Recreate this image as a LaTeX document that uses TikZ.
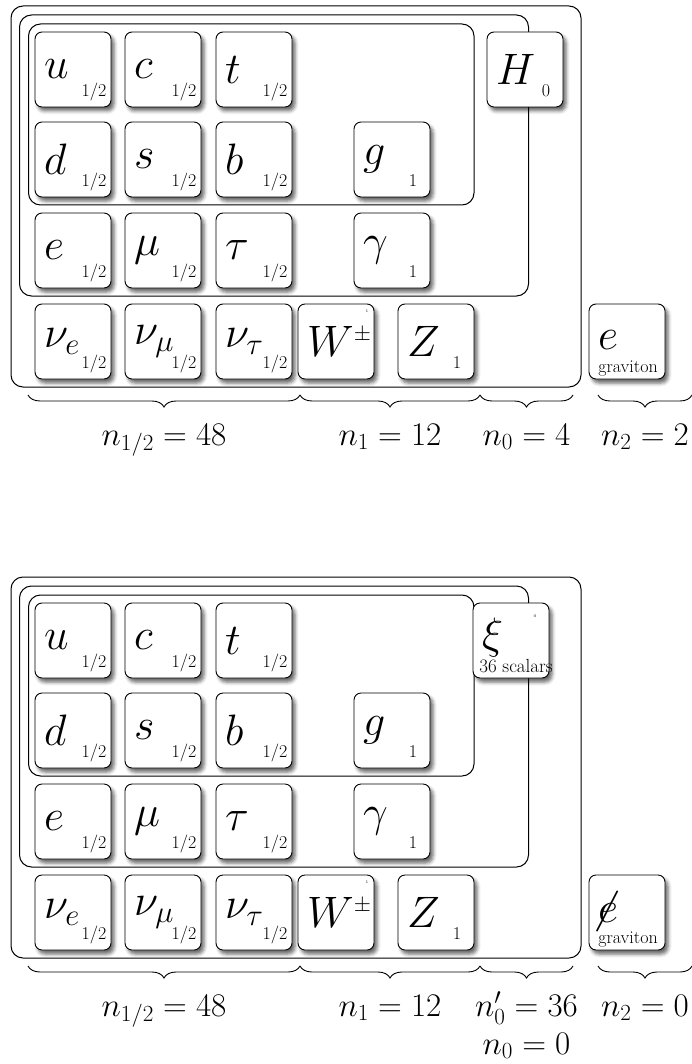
\RequirePackage{fix-cm}
\documentclass[tikz,border=0pt]{standalone}
\usetikzlibrary{shadows.blur,decorations.pathreplacing}

\begin{document}
\begin{tikzpicture}[x=1pt, y=-1pt,
  box/.style={draw, line width=1pt, rounded corners=12pt},
  tile/.style={draw, fill=white, line width=0.9pt, rounded corners=7pt,
    minimum width=76pt, minimum height=75pt, inner sep=0pt,
    blur shadow={shadow xshift=3pt, shadow yshift=-4pt, shadow blur radius=3.5pt, shadow opacity=60}},
  sym/.style={anchor=west, inner sep=0pt, font=\fontsize{44}{50}\selectfont},
  spin/.style={anchor=base, inner sep=0pt, font=\fontsize{18}{20}\selectfont},
  tinyspin/.style={inner sep=0pt, font=\fontsize{4}{4}\selectfont},
  note/.style={anchor=base, inner sep=0pt, font=\fontsize{18}{20}\selectfont},
  count/.style={anchor=base, yshift=-50pt, font=\fontsize{33}{40}\selectfont},
  brace/.style={decorate, decoration={brace, mirror, amplitude=12pt}, line width=0.9pt}]
\useasboundingbox (0,0) rectangle (691,1064);

\foreach \dy/\p in {0/a, 571/b} {
 \begin{scope}[shift={(0,\dy)}]
  \draw[box] (11,6) rectangle (581,387);
  \draw[box] (19.5,15) rectangle (528.5,296);
  \draw[box] (28.5,24) rectangle (474,205);
  \foreach \n/\cx/\cy/\s/\sp in {u/73/69.5/u/{1/2}, c/163/69.5/c/{1/2}, t/254/69.5/t/{1/2},
      d/73/159.5/d/{1/2}, s/163/159.5/s/{1/2}, b/254/159.5/b/{1/2}, g/392/159.5/g/1,
      e/73/250.5/e/{1/2}, mu/163/250.5/\mu/{1/2}, tau/254/250.5/\tau/{1/2}, gam/392/250.5/\gamma/1,
      nue/73/341.5/\nu_e/{1/2}, num/163/341.5/\nu_\mu/{1/2}, nut/254/341.5/\nu_\tau/{1/2}, Z/436/341.5/Z/1} {
    \node[tile] (\p-\n) at (\cx,\cy) {};
    \node[sym] (\p-\n-l) at (\cx-29,\cy) {$\s$};
    \node[spin] (\p-\n-s) at (\cx+21,\cy+27) {\sp};
  }
  \node[tile] (\p-W) at (336,341.5) {};
  \node[sym] (\p-W-l) at (307,341.5) {$W^{\scriptscriptstyle\pm}$};
  \node[tinyspin] (\p-W-s) at (367,311) {1};
  \node[tile] (\p-grav) at (627,341.5) {};
 \end{scope}
}

% top: with the Higgs
\node[tile] (a-H) at (525,69.5) {};
\node[sym] (a-H-l) at (496,69.5) {$H$};
\node[spin] (a-H-s) at (546,96.5) {0};
\node[sym] (a-grav-l) at (598,340) {$e$};
\node[note] (a-grav-n) at (628,372) {graviton};

\draw[brace] (28,395) -- node[count] (a-n12) {$n_{1/2}=48$} (300,395);
\draw[brace] (300,395) -- node[count] (a-n1) {$n_1=12$} (480,395);
\draw[brace] (480,395) -- node[count] (a-n0) {$n_0=4$} (573,395);
\draw[brace] (598,395) -- node[count] (a-n2) {$n_2=2$} (692,395);

% bottom: scalars, no graviton
\node[tile] (b-xi) at (511,640.5) {};
\node[sym] (b-xi-l) at (482,637) {$\xi$};
\node[tinyspin] (b-xi-s) at (535,616) {0};
\node[note, font=\fontsize{19}{20}\selectfont] (b-xi-n) at (516,672) {36 scalars};
\node[sym] (b-grav-l) at (598,911) {$\rlap{$\mkern-3mu\not$}e$};
\node[note] (b-grav-n) at (628,943) {graviton};

\draw[brace] (28,966) -- node[count] (b-n12) {$n_{1/2}=48$} (300,966);
\draw[brace] (300,966) -- node[count] (b-n1) {$n_1=12$} (480,966);
\draw[brace] (480,966) -- node[count] (b-n0p) {$n'_0=36$} (573,966);
\node[count] (b-n0) at (526.5,1004) {$n_0=0$};
\draw[brace] (598,966) -- node[count] (b-n2) {$n_2=0$} (692,966);
\end{tikzpicture}
\end{document}
